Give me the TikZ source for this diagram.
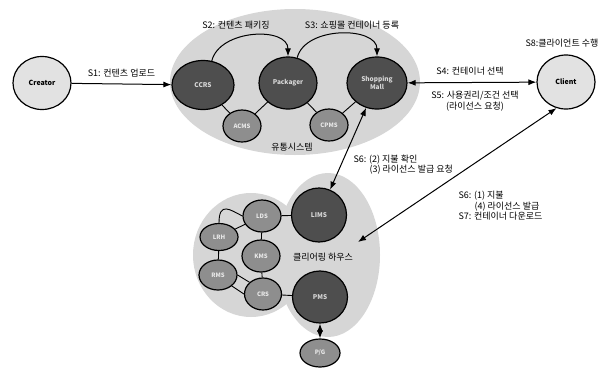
\documentclass[tikz,border=0pt]{standalone}
\usepackage{fontspec}
\setmainfont{Noto Sans CJK KR}
\usetikzlibrary{shapes.geometric, arrows.meta}

\definecolor{blobgray}{HTML}{D6D6D6}
\definecolor{darknode}{HTML}{4E4E4E}
\definecolor{darktext}{HTML}{D8D8D8}
\definecolor{midnode}{HTML}{8E8E8E}
\definecolor{midtext}{HTML}{E8E8E8}
\definecolor{lightnode}{HTML}{E2E2E2}

\begin{document}
\begin{tikzpicture}[x=1pt, y=-1pt,
  every node/.style={font=\fontsize{9}{10.5}\selectfont},
  endnode/.style={ellipse, draw, line width=1.2pt, fill=lightnode, inner sep=0pt,
    font=\fontsize{7}{8}\selectfont\bfseries},
  bignode/.style={ellipse, draw, line width=1.2pt, fill=darknode, text=darktext, inner sep=0pt,
    align=center, font=\fontsize{6.5}{7.5}\selectfont\bfseries},
  smallnode/.style={ellipse, draw, line width=1.2pt, fill=midnode, text=midtext, inner sep=0pt,
    font=\fontsize{6}{7}\selectfont\bfseries},
  arr/.style={line width=1pt, -{Latex[length=8pt,width=6pt]}},
  darr/.style={line width=1pt, {Latex[length=8pt,width=6pt]}-{Latex[length=8pt,width=6pt]}},
  link/.style={line width=0.9pt}]

	\useasboundingbox (0,0) rectangle (607,375);

	% background areas
	\fill[blobgray] (295,82) ellipse [x radius=125pt, y radius=73pt];
	\fill[blobgray] (328,255) ellipse [x radius=52pt, y radius=82pt];
	\fill[blobgray] (251,255) ellipse [x radius=58pt, y radius=62pt];

	% distribution system
	\node[endnode, minimum width=58pt, minimum height=53pt] (creator) at (42,83) {Creator};
	\node[bignode, minimum width=62pt, minimum height=49pt] (ccrs) at (203,85) {CCRS};
	\node[bignode, minimum width=58pt, minimum height=52pt] (packager) at (288,83) {Packager};
	\node[bignode, minimum width=60pt, minimum height=52pt] (mall) at (377,83) {Shopping\\Mall};
	\node[smallnode, minimum width=38pt, minimum height=32pt] (acms) at (242,126) {ACMS};
	\node[smallnode, minimum width=38pt, minimum height=32pt] (cpms) at (329,125) {CPMS};
	\node[endnode, minimum width=58pt, minimum height=54pt] (client) at (566,82) {Client};

	\draw[link] (ccrs) -- (acms);
	\draw[link] (acms) -- (packager);
	\draw[link] (packager) -- (cpms);
	\draw[link] (cpms) -- (mall);

	\node (distlabel) at (292,147) {유통시스템};

	% clearing house
	\node[bignode, minimum width=55pt, minimum height=54pt] (lims) at (319,215) {LIMS};
	\node[bignode, minimum width=55pt, minimum height=52pt] (pms) at (320,297) {PMS};
	\node[smallnode, minimum width=38pt, minimum height=32pt] (lds) at (262,216) {LDS};
	\node[smallnode, minimum width=38pt, minimum height=32pt] (kms) at (261,256) {KMS};
	\node[smallnode, minimum width=37pt, minimum height=32pt] (crs) at (263,294) {CRS};
	\node[smallnode, minimum width=38pt, minimum height=27pt] (lrh) at (219,237) {LRH};
	\node[smallnode, minimum width=38pt, minimum height=30pt] (rms) at (218,275) {RMS};
	\node[smallnode, minimum width=40pt, minimum height=28pt] (pg) at (320,353) {P/G};

	\draw[link] (lims) -- (lds);
	\draw[link] (lds) -- (kms);
	\draw[link] (lds) -- (lrh);
	\draw[link] (lrh.north) .. controls +(0,-22) and +(-12,-6) .. (lds.west);
	\draw[link] (lrh) -- (rms);
	\draw[link] (kms) -- (crs);
	\draw[link] (rms.east) -- (crs.north west);
	\draw[link] (rms.south east) -- (crs.west);
	\draw[link] (crs) -- (pms);

	\node (chlabel) at (323,257) {클리어링 하우스};

	% process steps
	\draw[arr] (creator) -- (ccrs) node[midway, above=3pt] {S1: 컨텐츠 업로드};
	\draw[arr] (ccrs.70) .. controls +(8,-32) and +(0,-30) .. (packager.north);
	\draw[arr] (packager.70) .. controls +(8,-32) and +(0,-30) .. (mall.north);
	\node (s2) at (236,25) {S2: 컨텐츠 패키징};
	\node (s3) at (352,25) {S3: 쇼핑몰 컨테이너 등록};

	\draw[darr] (mall) -- (client);
	\node (s4) at (470,71) {S4: 컨테이너 선택};
	\node[align=center] (s5) at (475,101) {S5: 사용권리/조건 선택\\(라이선스 요청)};
	\node[anchor=west] (s8) at (522,43) {S8:클라이언트 수행};

	\draw[darr] (mall) -- (lims);
	\node[anchor=north west, align=left] (s6a) at (350,151) {S6: (2) 지불 확인\\\hspace*{16pt}(3) 라이선스 발급 요청};

	\coordinate (chin) at (358,242);
	\draw[darr] (client.250) -- (chin);
	\node[anchor=north west, align=left] (s6b) at (455,188)
		{S6: (1) 지불\\\hspace*{16pt}(4) 라이선스 발급\\S7: 컨테이너 다운로드};

	\draw[darr] (pms) -- (pg);

\end{tikzpicture}
\end{document}
